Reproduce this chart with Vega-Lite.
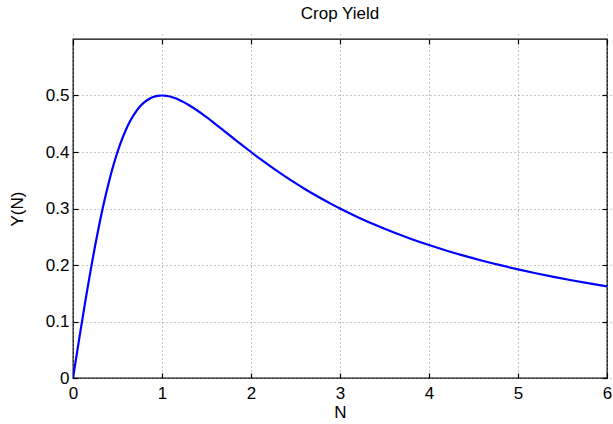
{
  "$schema": "https://vega.github.io/schema/vega-lite/v6.json",
  "width": 534,
  "height": 339,
  "autosize": {"type": "none"},
  "padding": {"left": 73, "top": 39, "right": 6, "bottom": 46},
  "background": "white",
  "config": {
    "font": "Liberation Sans",
    "view": {"stroke": "black", "strokeWidth": 1.3},
    "axis": {
      "labelFont": "Liberation Sans",
      "titleFont": "Liberation Sans",
      "labelFontSize": 17,
      "titleFontSize": 17,
      "titleFontWeight": "normal",
      "labelColor": "black",
      "titleColor": "black",
      "domain": false,
      "offset": -5,
      "tickSize": 5,
      "tickColor": "black",
      "tickWidth": 1.2,
      "gridColor": "#8c8c8c",
      "gridDash": [1, 3],
      "gridOpacity": 1,
      "labelFlush": false
    },
    "title": {"font": "Liberation Sans", "fontSize": 17, "fontWeight": "normal", "color": "black"}
  },
  "title": {"text": "Crop Yield", "offset": 15},
  "data": {
    "values": [
      {"N": 0, "Y": 0},
      {"N": 0.025, "Y": 0.02498},
      {"N": 0.05, "Y": 0.04988},
      {"N": 0.075, "Y": 0.07458},
      {"N": 0.1, "Y": 0.09901},
      {"N": 0.15, "Y": 0.1467},
      {"N": 0.2, "Y": 0.19231},
      {"N": 0.25, "Y": 0.23529},
      {"N": 0.3, "Y": 0.27523},
      {"N": 0.35, "Y": 0.3118},
      {"N": 0.4, "Y": 0.34483},
      {"N": 0.45, "Y": 0.37422},
      {"N": 0.5, "Y": 0.4},
      {"N": 0.55, "Y": 0.42226},
      {"N": 0.6, "Y": 0.44118},
      {"N": 0.65, "Y": 0.45694},
      {"N": 0.7, "Y": 0.4698},
      {"N": 0.75, "Y": 0.48},
      {"N": 0.8, "Y": 0.4878},
      {"N": 0.85, "Y": 0.49347},
      {"N": 0.9, "Y": 0.49724},
      {"N": 0.95, "Y": 0.49934},
      {"N": 1.0, "Y": 0.5},
      {"N": 1.05, "Y": 0.49941},
      {"N": 1.1, "Y": 0.49774},
      {"N": 1.15, "Y": 0.49516},
      {"N": 1.2, "Y": 0.4918},
      {"N": 1.25, "Y": 0.4878},
      {"N": 1.3, "Y": 0.48327},
      {"N": 1.35, "Y": 0.4783},
      {"N": 1.4, "Y": 0.47297},
      {"N": 1.45, "Y": 0.46737},
      {"N": 1.5, "Y": 0.46154},
      {"N": 1.6, "Y": 0.44944},
      {"N": 1.7, "Y": 0.43702},
      {"N": 1.8, "Y": 0.42453},
      {"N": 1.9, "Y": 0.41215},
      {"N": 2.0, "Y": 0.4},
      {"N": 2.1, "Y": 0.38817},
      {"N": 2.2, "Y": 0.37671},
      {"N": 2.3, "Y": 0.36566},
      {"N": 2.4, "Y": 0.35503},
      {"N": 2.5, "Y": 0.34483},
      {"N": 2.6, "Y": 0.33505},
      {"N": 2.7, "Y": 0.32569},
      {"N": 2.8, "Y": 0.31674},
      {"N": 2.9, "Y": 0.30818},
      {"N": 3.0, "Y": 0.3},
      {"N": 3.2, "Y": 0.2847},
      {"N": 3.4, "Y": 0.2707},
      {"N": 3.6, "Y": 0.25788},
      {"N": 3.8, "Y": 0.24611},
      {"N": 4.0, "Y": 0.23529},
      {"N": 4.2, "Y": 0.22532},
      {"N": 4.4, "Y": 0.21611},
      {"N": 4.6, "Y": 0.20758},
      {"N": 4.8, "Y": 0.19967},
      {"N": 5.0, "Y": 0.19231},
      {"N": 5.2, "Y": 0.18545},
      {"N": 5.4, "Y": 0.17905},
      {"N": 5.6, "Y": 0.17305},
      {"N": 5.8, "Y": 0.16744},
      {"N": 6.0, "Y": 0.16216}
    ]
  },
  "layer": [
    {
      "mark": {"type": "line", "color": "#0000ff", "strokeWidth": 2.2, "interpolate": "monotone", "clip": true},
      "encoding": {
        "x": {
          "field": "N", "type": "quantitative",
          "scale": {"domain": [0, 6], "nice": false},
          "axis": {"title": "N", "values": [0, 1, 2, 3, 4, 5, 6], "labelPadding": 7, "titlePadding": 3, "format": "d"}
        },
        "y": {
          "field": "Y", "type": "quantitative",
          "scale": {"domain": [0, 0.6], "nice": false},
          "axis": {"title": "Y(N)", "values": [0, 0.1, 0.2, 0.3, 0.4, 0.5], "labelPadding": 4, "titlePadding": 19,
            "labelExpr": "datum.value == 0 ? '0' : format(datum.value, '.1f')"}
        }
      }
    },
    {
      "mark": {"type": "line", "opacity": 0},
      "encoding": {
        "x": {
          "field": "N", "type": "quantitative",
          "axis": {"orient": "top", "title": null, "labels": false, "grid": false, "values": [0, 1, 2, 3, 4, 5, 6]}
        },
        "y": {
          "field": "Y", "type": "quantitative",
          "axis": {"orient": "right", "title": null, "labels": false, "grid": false, "values": [0, 0.1, 0.2, 0.3, 0.4, 0.5]}
        }
      }
    }
  ],
  "resolve": {"axis": {"x": "independent", "y": "independent"}}
}
